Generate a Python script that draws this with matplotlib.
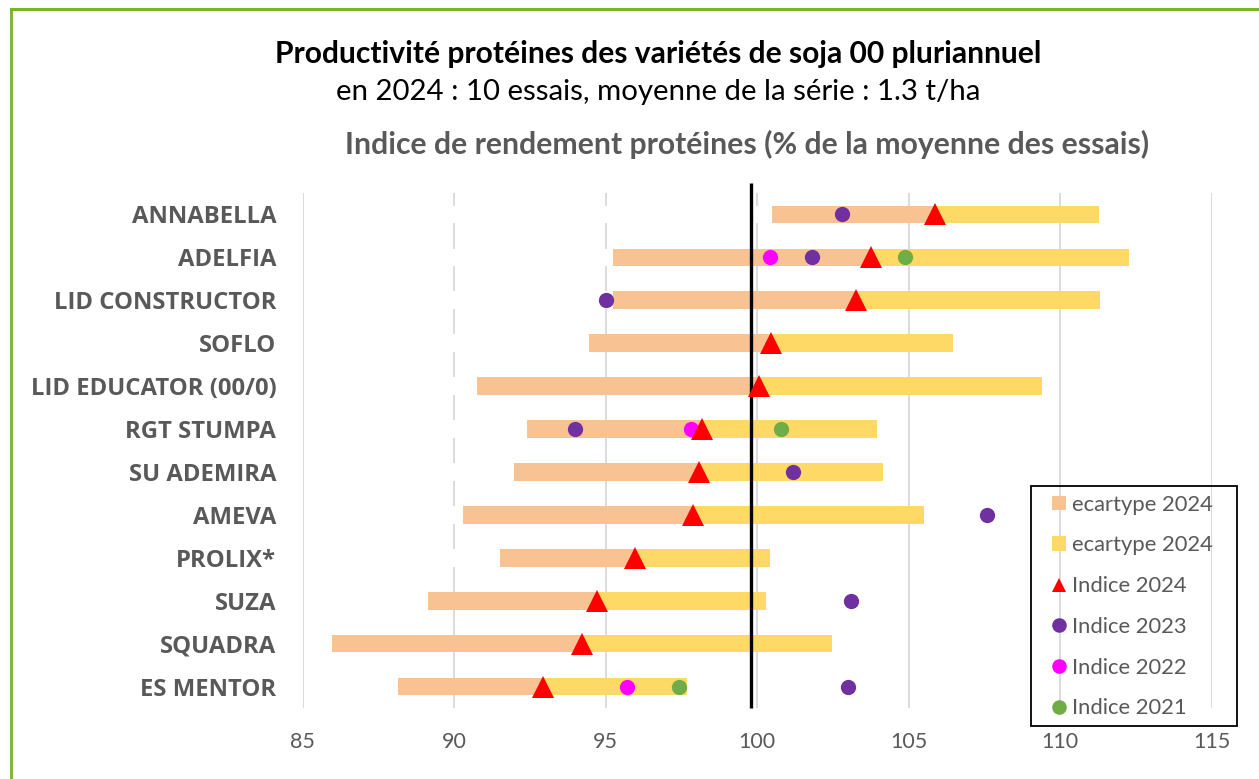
import matplotlib
matplotlib.use("Agg")
import matplotlib.pyplot as plt
from matplotlib.lines import Line2D
from matplotlib.patches import Rectangle
import numpy as np

# ---------------- data ----------------
varieties = ["ANNABELLA", "ADELFIA", "LID CONSTRUCTOR", "SOFLO", "LID EDUCATOR (00/0)",
             "RGT STUMPA", "SU ADEMIRA", "AMEVA", "PROLIX*", "SUZA", "SQUADRA", "ES MENTOR"]
low_2024 = [100.5, 95.24, 95.23, 94.46, 90.74, 92.41, 91.98, 90.29, 91.51, 89.13, 85.96, 88.15]
indice_2024 = [105.87, 103.74, 103.26, 100.45, 100.07, 98.19, 98.07, 97.89, 95.96, 94.70, 94.21, 92.92]
high_2024 = [111.27, 112.26, 111.33, 106.47, 109.41, 103.96, 104.16, 105.49, 100.42, 100.28, 102.47, 97.69]
nan = np.nan
indice_2023 = [102.8, 101.8, 95.01, nan, nan, 94.0, 101.19, 107.6, nan, 103.09, nan, 103.01]
indice_2022 = [nan, 100.41, nan, nan, nan, 97.82, nan, nan, nan, nan, nan, 95.70]
indice_2021 = [nan, 104.89, nan, nan, nan, 100.8, nan, nan, nan, nan, nan, 97.41]
reference_line = 99.78
x_min, x_max = 85, 115
x_ticks = [85, 90, 95, 100, 105, 110, 115]

title = "Productivité protéines des variétés de soja 00 pluriannuel"
subtitle = "en 2024 : 10 essais, moyenne de la série : 1.3 t/ha"
axis_title = "Indice de rendement protéines (% de la moyenne des essais)"
legend_labels = ["ecartype 2024", "ecartype 2024", "Indice 2024", "Indice 2023",
                 "Indice 2022", "Indice 2021"]

# ---------------- style ----------------
C_ORANGE = "#F8C293"
C_YELLOW = "#FFD966"
C_RED = "#FF0000"
C_PURPLE = "#7030A0"
C_MAGENTA = "#FF00FF"
C_GREEN = "#70AD47"
C_GRAY = "#595959"
C_GRID = "#D9D9D9"
C_BORDER = "#77B52B"
FONT_C = ["Lato", "DejaVu Sans"]
FONT_S = ["Open Sans", "DejaVu Sans"]

W, H = 1259, 779
fig = plt.figure(figsize=(W / 100, H / 100), dpi=100)
ax = fig.add_axes([302.7 / W, 1 - 708 / H, (1211.7 - 302.7) / W, (708 - 193) / H])

y = np.arange(len(varieties))
lo = np.array(low_2024)
mid = np.array(indice_2024)
hi = np.array(high_2024)

bar_h = 0.41
# white base segment (hides gridlines, as in the original stacked chart)
ax.barh(y, lo - x_min, left=x_min, height=bar_h, color="white", zorder=1)
b1 = ax.barh(y, mid - lo, left=lo, height=bar_h, color=C_ORANGE, zorder=2)
b2 = ax.barh(y, hi - mid, left=mid, height=bar_h, color=C_YELLOW, zorder=2)

ax.plot([reference_line, reference_line], [-0.73, len(varieties) - 0.5], color="black", lw=2.4,
        zorder=2.5, clip_on=False, solid_capstyle="butt")

m23, = ax.plot(indice_2023, y, "o", color=C_PURPLE, ms=11, zorder=3, mew=0)
m22, = ax.plot(indice_2022, y, "o", color=C_MAGENTA, ms=11, zorder=3, mew=0)
m21, = ax.plot(indice_2021, y, "o", color=C_GREEN, ms=11, zorder=3, mew=0)
m24, = ax.plot(indice_2024, y, "^", color=C_RED, ms=16, zorder=4, mew=0)

# gridlines
for xv in x_ticks:
    ax.axvline(xv, color=C_GRID, lw=1.3, zorder=1.5 if xv == x_min else 0)

ax.set_xlim(x_min, x_max)
ax.set_ylim(len(varieties) - 0.5, -0.5)
ax.set_xticks(x_ticks)
ax.set_xticklabels([str(v) for v in x_ticks], fontfamily=FONT_C, fontsize=15.5, color=C_GRAY)
ax.set_yticks(y)
ax.set_yticklabels(varieties, fontfamily=FONT_S, fontsize=17.2, fontweight="bold", color=C_GRAY)
ax.tick_params(axis="x", length=0, pad=17)
ax.tick_params(axis="y", length=0, pad=19)
for s in ax.spines.values():
    s.set_visible(False)

# titles
fig.text(658.5 / W, 1 - 63.3 / H, title, ha="center", va="baseline", fontsize=21.6,
         fontweight="bold", family=FONT_C, color="black")
fig.text(658.5 / W, 1 - 100 / H, subtitle, ha="center", va="baseline", fontsize=21.2,
         family=FONT_C, color="black")
fig.text(747 / W, 1 - 154 / H, axis_title, ha="center", va="baseline", fontsize=21.7,
         fontweight="bold", family=FONT_C, color=C_GRAY)

# legend (transparent, with a separate black frame)
leg = ax.legend(handles=[b1, b2, m24, m23, m22, m21], labels=legend_labels,
                loc="upper left", bbox_to_anchor=(1034.6 / W, 1 - 477 / H),
                bbox_transform=fig.transFigure, borderaxespad=0,
                prop={"family": FONT_C, "size": 15.8}, frameon=False,
                handlelength=0.62, handleheight=0.62,
                handletextpad=0.3, labelspacing=0.945, borderpad=0.8)
for t in leg.get_texts():
    t.set_color(C_GRAY)
for h in leg.legend_handles[2:]:
    h.set_markersize(10.5)
fig.add_artist(Rectangle((1030.6 / W, 1 - 725.7 / H), (1237.3 - 1030.6) / W,
                         (725.7 - 485.5) / H, transform=fig.transFigure,
                         fill=False, edgecolor="black", lw=1.3, zorder=5))

# figure border (green)
fig.add_artist(Line2D([11 / W, 1.0], [1 - 9 / H, 1 - 9 / H], transform=fig.transFigure,
                      color=C_BORDER, lw=2.2))
fig.add_artist(Line2D([11 / W, 11 / W], [0, 1 - 9 / H], transform=fig.transFigure,
                      color=C_BORDER, lw=2.0))

fig.savefig("out.png", dpi=100)
